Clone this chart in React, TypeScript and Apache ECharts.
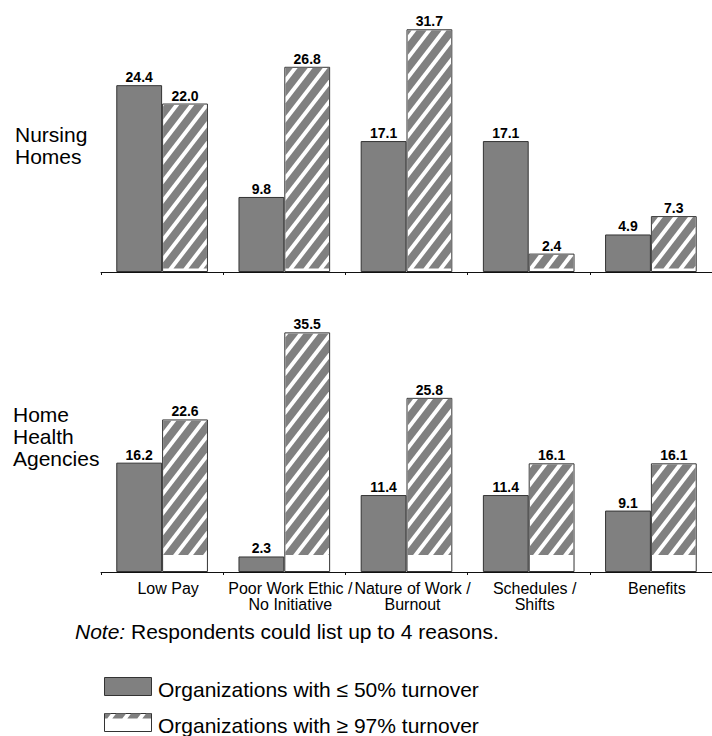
import React, { useEffect, useRef } from "react";
import * as echarts from "echarts";

// ---- data ----
const categories = [
  "Low Pay",
  "Poor Work Ethic /\nNo Initiative",
  "Nature of Work /\nBurnout",
  "Schedules /\nShifts",
  "Benefits",
];
const nursingLow = [24.4, 9.8, 17.1, 17.1, 4.9];
const nursingHigh = [22.0, 26.8, 31.7, 2.4, 7.3];
const homeLow = [16.2, 2.3, 11.4, 11.4, 9.1];
const homeHigh = [22.6, 35.5, 25.8, 16.1, 16.1];
const legendNames = ["Organizations with \u2264 50% turnover", "Organizations with \u2265 97% turnover"];
const panelTitleTop = ["Nursing", "Homes"];
const panelTitleBottom = ["Home", "Health", "Agencies"];
const noteLabel = "Note:";
const noteText = "Respondents could list up to 4 reasons.";

const FONT = "'Liberation Sans', Arial, Helvetica, sans-serif";
const GRAY = "#808080";
const EDGE = "#333333";

// ---- hatch helpers ----
const SLOPE = 1.3;
const PERIOD = 15;
const WHITE = 5;

type Pt = number[];
function clipHalf(pts: Pt[], keep: (p: Pt) => boolean, X: number): Pt[] {
  const out: Pt[] = [];
  for (let i = 0; i < pts.length; i++) {
    const a = pts[i];
    const b = pts[(i + 1) % pts.length];
    const ia = keep(a);
    const ib = keep(b);
    if (ia) out.push(a);
    if (ia !== ib) {
      const r = (X - a[0]) / (b[0] - a[0]);
      out.push([X, a[1] + r * (b[1] - a[1])]);
    }
  }
  return out;
}
function stripePolys(x0: number, x1: number, yTop: number, yBot: number): Pt[][] {
  const polys: Pt[][] = [];
  if (x1 <= x0 || yBot <= yTop) return polys;
  const tMin = x0 + yTop / SLOPE;
  const tMax = x1 + yBot / SLOPE;
  for (let k = Math.floor(tMin / PERIOD) - 1; k * PERIOD <= tMax; k++) {
    const t1 = k * PERIOD + WHITE;
    const t2 = (k + 1) * PERIOD;
    let p: Pt[] = [
      [t1 - yTop / SLOPE, yTop],
      [t2 - yTop / SLOPE, yTop],
      [t2 - yBot / SLOPE, yBot],
      [t1 - yBot / SLOPE, yBot],
    ];
    p = clipHalf(p, (q) => q[0] >= x0, x0);
    if (p.length < 3) continue;
    p = clipHalf(p, (q) => q[0] <= x1, x1);
    if (p.length < 3) continue;
    polys.push(p);
  }
  return polys;
}

function hatchSeries(values: number[], axis: number, bottomBand: number) {
  return {
    type: "custom",
    xAxisIndex: axis,
    yAxisIndex: axis,
    z: 5,
    silent: true,
    data: values.map((v, i) => [i, v]),
    encode: { x: 0, y: 1 },
    renderItem: (params: any, api: any) => {
      const idx = api.value(0);
      const val = api.value(1);
      const top = api.coord([idx, val]);
      const base = api.coord([idx, 0]);
      const band = api.size([1, 0])[0];
      const bw = (band * 0.75) / 2;
      const x0 = top[0] + 1;
      const x1 = top[0] + bw - 1;
      const yTop = top[1] + 1;
      const yBot = base[1] - bottomBand;
      const polys = stripePolys(x0, x1, yTop, yBot);
      return {
        type: "group",
        children: polys.map((p) => ({
          type: "polygon",
          shape: { points: p },
          style: { fill: GRAY },
        })),
      };
    },
  };
}

function barSeries(values: number[], axis: number, fill: string) {
  return {
    type: "bar",
    xAxisIndex: axis,
    yAxisIndex: axis,
    data: values,
    barGap: "0%",
    barCategoryGap: "25%",
    itemStyle: { color: fill, borderColor: EDGE, borderWidth: 1 },
    label: {
      show: true,
      position: "top",
      distance: 1,
      fontFamily: FONT,
      fontWeight: "bold",
      fontSize: 14,
      color: "#000",
      formatter: (p: any) => Number(p.value).toFixed(1),
    },
  };
}

function xAxis(grid: number, showLabels: boolean) {
  return {
    type: "category",
    gridIndex: grid,
    data: categories,
    axisLine: { show: true, lineStyle: { color: "#111", width: 1 } },
    axisTick: { show: true, length: 3, lineStyle: { color: "#111" } },
    axisLabel: {
      show: showLabels,
      interval: 0,
      fontFamily: FONT,
      fontSize: 16,
      lineHeight: 16,
      color: "#000",
      margin: 8,
      padding: [0, 0, 0, 12],
    },
  };
}

function textEl(text: string, x: number, y: number, size: number, extra: any = {}) {
  return {
    type: "text",
    x,
    y,
    style: {
      text,
      fontFamily: FONT,
      fontSize: size,
      fill: "#000",
      verticalAlign: "middle",
      align: "left",
      ...extra,
    },
  };
}

export default function App() {
  const ref = useRef<HTMLDivElement>(null);
  useEffect(() => {
    if (!ref.current) return;
    const chart = echarts.init(ref.current, undefined, { renderer: "svg" });

    const legendStripes = stripePolys(105, 151, 713.5, 718.5).map((p) => ({
      type: "polygon",
      shape: { points: p },
      style: { fill: GRAY },
      z: 11,
    }));

    const graphics: any[] = [
      textEl(panelTitleTop[0], 15, 134, 21),
      textEl(panelTitleTop[1], 15, 156.5, 21),
      textEl(panelTitleBottom[0], 13, 414.5, 21),
      textEl(panelTitleBottom[1], 13, 436.5, 21),
      textEl(panelTitleBottom[2], 13, 458.5, 21),
      {
        type: "text",
        x: 75,
        y: 631,
        style: {
          text: "{i|" + noteLabel + "} " + noteText,
          fontFamily: FONT,
          fontSize: 21,
          fill: "#000",
          verticalAlign: "middle",
          rich: { i: { fontStyle: "italic", fontFamily: FONT, fontSize: 21, fill: "#000" } },
        },
      },
      {
        type: "rect",
        shape: { x: 104.5, y: 677.5, width: 47, height: 18 },
        style: { fill: GRAY, stroke: EDGE, lineWidth: 1 },
        z: 10,
      },
      {
        type: "rect",
        shape: { x: 104.5, y: 713.5, width: 47, height: 18 },
        style: { fill: "#fff", stroke: EDGE, lineWidth: 1 },
        z: 10,
      },
      ...legendStripes,
      textEl(legendNames[0], 158, 689, 21),
      textEl(legendNames[1], 158, 725, 21),
    ];

    chart.setOption({
      animation: false,
      backgroundColor: "#fff",
      grid: [
        { left: 101, right: -9, top: 4, height: 268 },
        { left: 101, right: -9, top: 302, height: 270 },
      ],
      xAxis: [xAxis(0, false), xAxis(1, true)],
      yAxis: [
        { type: "value", gridIndex: 0, min: 0, max: 35, show: false },
        { type: "value", gridIndex: 1, min: 0, max: 40, show: false },
      ],
      series: [
        barSeries(nursingLow, 0, GRAY),
        barSeries(nursingHigh, 0, "#fff"),
        hatchSeries(nursingHigh, 0, 3.5),
        barSeries(homeLow, 1, GRAY),
        barSeries(homeHigh, 1, "#fff"),
        hatchSeries(homeHigh, 1, 17),
      ],
      graphic: graphics,
    });
    return () => chart.dispose();
  }, []);
  return (
    <div
      ref={ref}
      style={{ position: "absolute", left: 0, top: 0, width: 712, height: 736, background: "#fff" }}
    />
  );
}
